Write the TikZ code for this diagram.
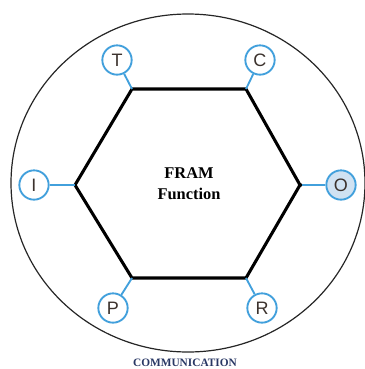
\documentclass[tikz,border=0pt]{standalone}
\usepackage{fontspec}
\setmainfont{Liberation Serif}
\setsansfont{Liberation Sans}
\usetikzlibrary{calc}

\definecolor{portblue}{RGB}{66,160,220}
\definecolor{portfill}{RGB}{208,226,242}
\definecolor{commblue}{RGB}{40,55,100}
\definecolor{lettergray}{RGB}{60,50,45}

\begin{document}
\begin{tikzpicture}[x=0.75pt, y=-0.75pt,
  port/.style={circle, draw=portblue, line width=1.4pt, fill=white, minimum size=22pt,
    inner sep=0pt, font=\sffamily\fontsize{13.5}{13.5}\selectfont, text=lettergray},
  link/.style={draw=portblue, line width=1.4pt}]
  % frame 365 x 369 px
  \useasboundingbox (0,0) rectangle (365,369);

  % outer boundary
  \draw[line width=0.9pt, black!85] (188,183) ellipse [x radius=177, y radius=169];

  % hexagon corners
  \coordinate (vl) at (75,185);
  \coordinate (vtl) at (132,89);
  \coordinate (vtr) at (246,89);
  \coordinate (vr) at (300,185);
  \coordinate (vbr) at (246,278);
  \coordinate (vbl) at (132,278);
  \draw[line width=2.3pt, line join=miter] (vl) -- (vtl) -- (vtr) -- (vr) -- (vbr) -- (vbl) -- cycle;

  \node[font=\bfseries\fontsize{12.3}{16}\selectfont, align=center] (fn) at (189,184) {FRAM\\Function};

  % aspects
  \node[port] (t) at (117,60) {T};
  \node[port] (c) at (260,60) {C};
  \node[port] (i) at (34,185) {I};
  \node[port, fill=portfill] (o) at (341,185) {O};
  \node[port] (p) at (113,308) {P};
  \node[port] (r) at (262,308) {R};

  \draw[link] (t) -- (vtl);
  \draw[link] (c) -- (vtr);
  \draw[link] (i) -- (vl);
  \draw[link] (o) -- (vr);
  \draw[link] (p) -- (vbl);
  \draw[link] (r) -- (vbr);
  \fill (vr) circle (1.6pt);

  \node[font=\bfseries\fontsize{8.5}{9}\selectfont, text=commblue, inner sep=0pt] (comm) at (185,362.5) {COMMUNICATION};
\end{tikzpicture}
\end{document}
